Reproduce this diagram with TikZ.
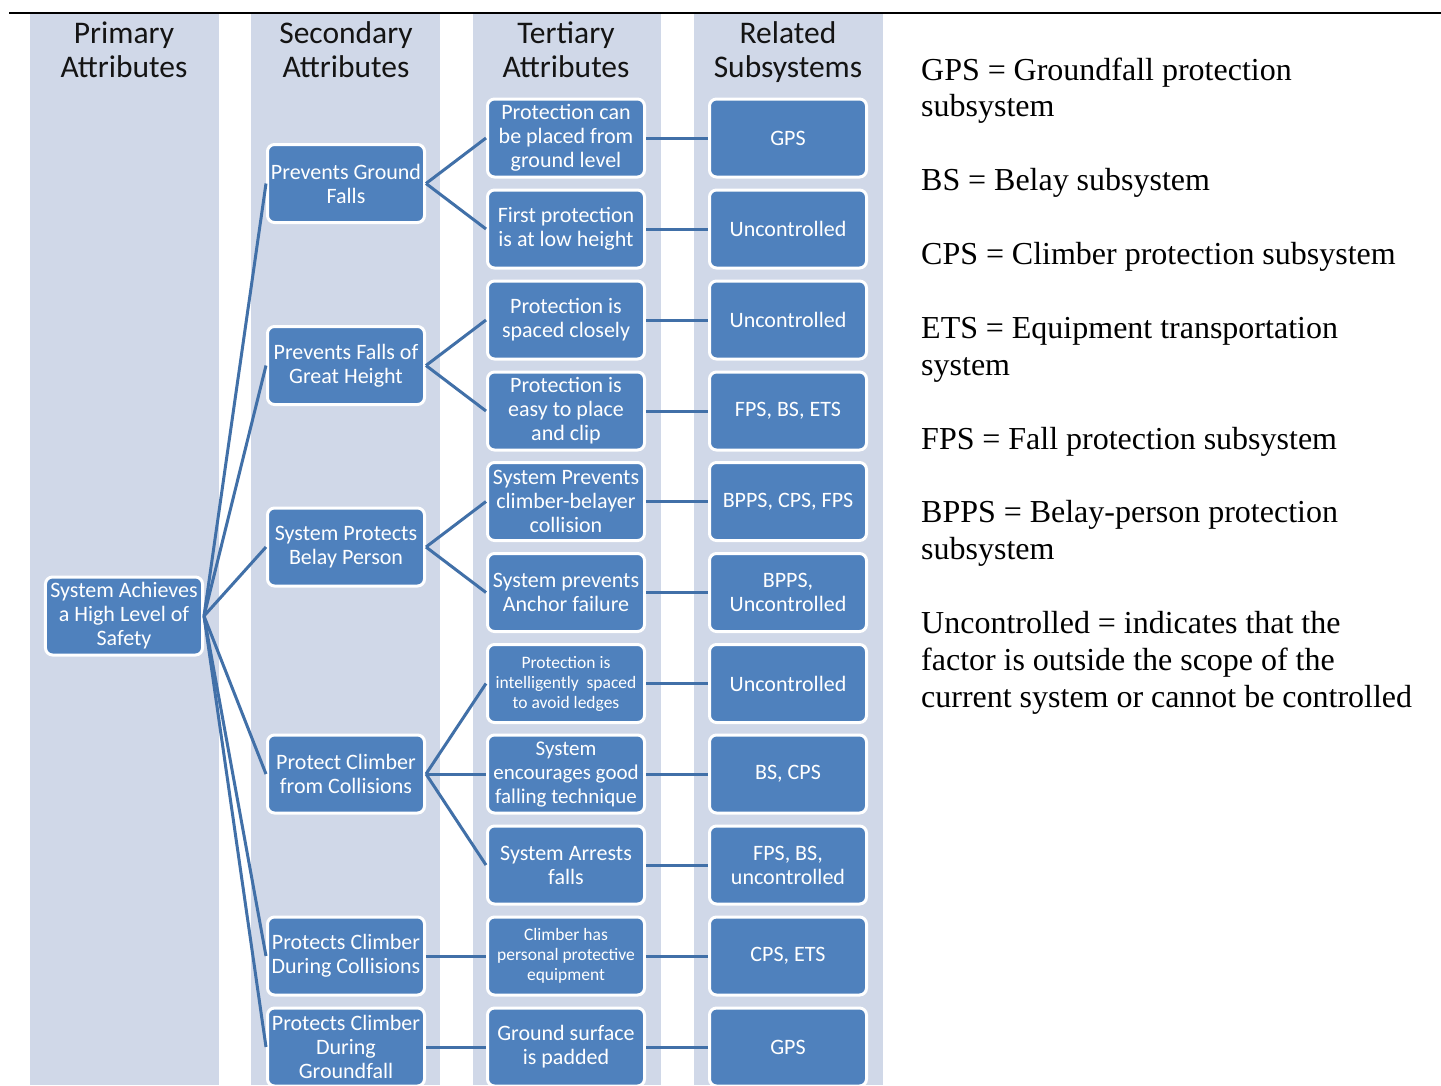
\documentclass[tikz,border=0pt]{standalone}
\usepackage{fontspec}
\setmainfont{Liberation Serif}
\newfontfamily\carlito{Carlito}
\definecolor{bandc}{HTML}{D0D8E8}
\definecolor{boxc}{HTML}{4F81BD}
\definecolor{linec}{HTML}{4170A8}
\definecolor{headc}{HTML}{141414}
\newcommand\legendfont{\fontsize{32bp}{36.9bp}\selectfont}
\newcommand\narrowspaces{\spaceskip=7.9bp plus 2bp minus 1bp\relax}
\tikzset{
  band/.style={fill=bandc, draw=none},
  box/.style={rectangle, rounded corners=7bp, fill=boxc, draw=white, line width=3bp,
    minimum width=157bp, minimum height=78bp, inner sep=0pt, align=center,
    text=white, font=\carlito\fontsize{22bp}{24bp}\selectfont},
  smallbox/.style={box, font=\carlito\fontsize{17.5bp}{20bp}\selectfont},
  tightbox/.style={box, font=\carlito\fontsize{21bp}{24bp}\selectfont},
  header/.style={align=center, inner sep=0pt, text=headc,
    font=\carlito\fontsize{31.5bp}{34bp}\selectfont},
  link/.style={draw=linec, line width=3bp},
  legend/.style={anchor=base west, inner sep=0pt, text width=515bp, align=left,
    font=\legendfont, execute at begin node=\narrowspaces}
}
\begin{document}
\begin{tikzpicture}[x=1bp, y=-1bp]
  % page
  \fill[white] (0,0) rectangle (1441,1085);
  \useasboundingbox (0,0) rectangle (1441,1085);
  \clip (0,0) rectangle (1441,1085);

  % rule at the top
  \draw[black, line width=2bp] (9,12.5) -- (1441,12.5);

  % column bands
  \foreach \xl/\xr in {30/219, 251/440, 473/661, 694/883}
    \fill[band] (\xl,13.5) rectangle (\xr,1085);

  % column headings
  \node[header] (h1) at (124,50) {Primary\\Attributes};
  \node[header] (h2) at (346,50) {Secondary\\Attributes};
  \node[header] (h3) at (566,50) {Tertiary\\Attributes};
  \node[header] (h4) at (788,52.5) {Related\\Subsystems};

  % primary attribute
  \node[box] (p) at (124,616) {System Achieves\\a High Level of\\Safety};

  % secondary attributes
  \node[box] (s1) at (346,183.5) {Prevents Ground\\Falls};
  \node[box] (s2) at (346,365.5) {Prevents Falls of\\Great Height};
  \node[box] (s3) at (346,547) {System Protects\\Belay Person};
  \node[box] (s4) at (346,774) {Protect Climber\\from Collisions};
  \node[box] (s5) at (346,956) {Protects Climber\\During Collisions};
  \node[box] (s6) at (346,1047) {Protects Climber\\During\\Groundfall};

  % tertiary attributes
  \node[box] (t1) at (566,138) {Protection can\\be placed from\\ground level};
  \node[box] (t2) at (566,229) {First protection\\is at low height};
  \node[box] (t3) at (566,320) {Protection is\\spaced closely};
  \node[box] (t4) at (566,411) {Protection is\\easy to place\\and clip};
  \node[box] (t5) at (566,501.5) {System Prevents\\climber-belayer\\collision};
  \node[box] (t6) at (566,592.5) {System prevents\\Anchor failure};
  \node[smallbox] (t7) at (566,683.5) {Protection is\\intelligently\ \ spaced\\to avoid ledges};
  \node[tightbox] (t8) at (566,774) {System\\encourages good\\falling technique};
  \node[box] (t9) at (566,865) {System Arrests\\falls};
  \node[smallbox] (t10) at (566,956) {Climber has\\personal protective\\equipment};
  \node[box] (t11) at (566,1047) {Ground surface\\is padded};

  % related subsystems
  \node[box] (r1) at (788,138) {GPS};
  \node[box] (r2) at (788,229) {Uncontrolled};
  \node[box] (r3) at (788,320) {Uncontrolled};
  \node[box] (r4) at (788,411) {FPS, BS, ETS};
  \node[box] (r5) at (788,501.5) {BPPS, CPS, FPS};
  \node[box] (r6) at (788,592.5) {BPPS,\\Uncontrolled};
  \node[box] (r7) at (788,683.5) {Uncontrolled};
  \node[box] (r8) at (788,774) {BS, CPS};
  \node[box] (r9) at (788,865) {FPS, BS,\\uncontrolled};
  \node[box] (r10) at (788,956) {CPS, ETS};
  \node[box] (r11) at (788,1047) {GPS};

  % connectors, from each attribute to the ones it breaks down into
  \foreach \s in {s1,s2,s3,s4,s5,s6}
    \draw[link] (p.east) -- (\s.west);
  \foreach \s/\t in {s1/t1, s1/t2, s2/t3, s2/t4, s3/t5, s3/t6,
                     s4/t7, s4/t8, s4/t9, s5/t10, s6/t11}
    \draw[link] (\s.east) -- (\t.west);
  \foreach \i in {1,...,11}
    \draw[link] (t\i.east) -- (r\i.west);

  % abbreviations
  \node[legend] (k1) at (921,80) {GPS = Groundfall protection\\subsystem};
  \node[legend] (k2) at (921,190.7) {BS = Belay subsystem};
  \node[legend] (k3) at (921,264.5) {CPS = Climber protection subsystem};
  \node[legend] (k4) at (921,338.3) {ETS = Equipment transportation\\system};
  \node[legend] (k5) at (921,449) {FPS = Fall protection subsystem};
  \node[legend] (k6) at (921,522.8) {BPPS = Belay-person protection\\subsystem};
  \node[legend] (k7) at (921,633.5) {Uncontrolled = indicates that the\\factor is outside the scope of the\\current system or cannot be controlled};
\end{tikzpicture}
\end{document}
